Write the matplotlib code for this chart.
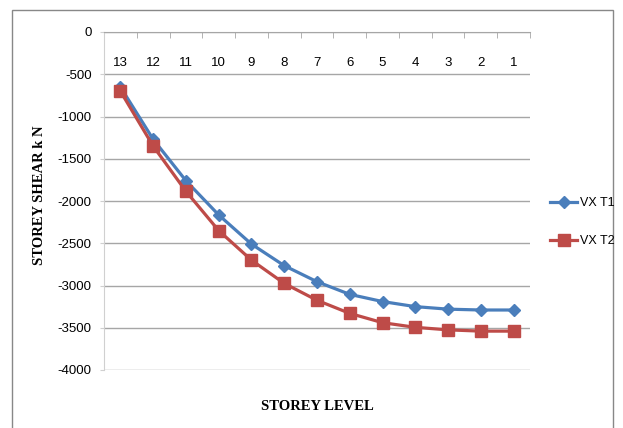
import numpy as np
import matplotlib
matplotlib.use("Agg")
from matplotlib import pyplot
from matplotlib.patches import Rectangle
from matplotlib.lines import Line2D

# storey shear per level (kN)
levels = ["13", "12", "11", "10", "9", "8", "7", "6", "5", "4", "3", "2", "1"]
vx_t1 = [-650, -1270, -1760, -2165, -2510, -2765, -2955, -3105, -3190, -3250, -3280, -3290, -3290]
vx_t2 = [-700, -1350, -1885, -2350, -2700, -2975, -3175, -3330, -3440, -3495, -3525, -3540, -3540]

blue = "#4A7EBB"
red = "#BE4B48"
tick_font = "Liberation Sans"
title_font = "Liberation Serif"
pyplot.rcParams["axes.unicode_minus"] = False

W, H = 623, 428
fig = pyplot.figure(figsize=(W / 100, H / 100), dpi=100)

# outer chart border
fig.add_artist(Rectangle((12 / W, -0.05), (613 - 12) / W, 1.05 - 10 / H,
                         transform=fig.transFigure, fill=False,
                         edgecolor="#888888", lw=1.0))

ax = fig.add_axes([104 / W, 1 - 370 / H, (530 - 104) / W, (370 - 32) / H])
x = np.arange(len(levels))

ax.plot(x, vx_t1, color=blue, lw=2.3, marker="D", ms=6.5, mfc=blue, mec=blue, zorder=3)
ax.plot(x, vx_t2, color=red, lw=2.3, marker="s", ms=8, mfc=red, mec=red, zorder=3)

ax.set_xlim(-0.5, len(levels) - 0.5)
ax.set_ylim(-4000, 0)
ax.set_yticks(np.arange(-4000, 1, 500))
ax.yaxis.grid(True, color="#A6A6A6", lw=1.0)
ax.set_axisbelow(True)

for side in ["right", "bottom"]:
    ax.spines[side].set_visible(False)
ax.spines["left"].set_color("#D0D0D0")
ax.spines["top"].set_color("#A6A6A6")

# category axis sits along the zero line
ax.xaxis.set_ticks_position("top")
ax.set_xticks(x)
ax.set_xticklabels(levels, fontfamily=tick_font, fontsize=9.5)
ax.set_xticks(np.arange(-0.5, len(levels)), minor=True)
ax.tick_params(axis="x", which="major", length=0, pad=-27)
ax.tick_params(axis="x", which="minor", direction="in", length=4, color="#A6A6A6")
ax.tick_params(axis="y", length=3, color="#D0D0D0", pad=6)
for lab in ax.get_yticklabels():
    lab.set_fontfamily(tick_font)
    lab.set_fontsize(9.5)

fig.text(40 / W, 1 - 195 / H, "STOREY SHEAR k N", rotation=90, ha="center", va="center",
         fontfamily=title_font, fontweight="bold", fontsize=10.5)
fig.text(317 / W, 1 - 406 / H, "STOREY LEVEL", ha="center", va="center",
         fontfamily=title_font, fontweight="bold", fontsize=10.5)

handles = [
    Line2D([], [], color=blue, lw=2.3, marker="D", ms=6.5, mec=blue),
    Line2D([], [], color=red, lw=2.3, marker="s", ms=8, mec=red),
]
fig.legend(handles, ["VX T1", "VX T2"], loc="center left",
           bbox_to_anchor=(541 / W, 1 - 222 / H), frameon=False,
           prop={"family": tick_font, "size": 9}, handlelength=2.2,
           handletextpad=0.2, labelspacing=2.1, borderpad=0.2)

fig.savefig("out.png", dpi=100)
